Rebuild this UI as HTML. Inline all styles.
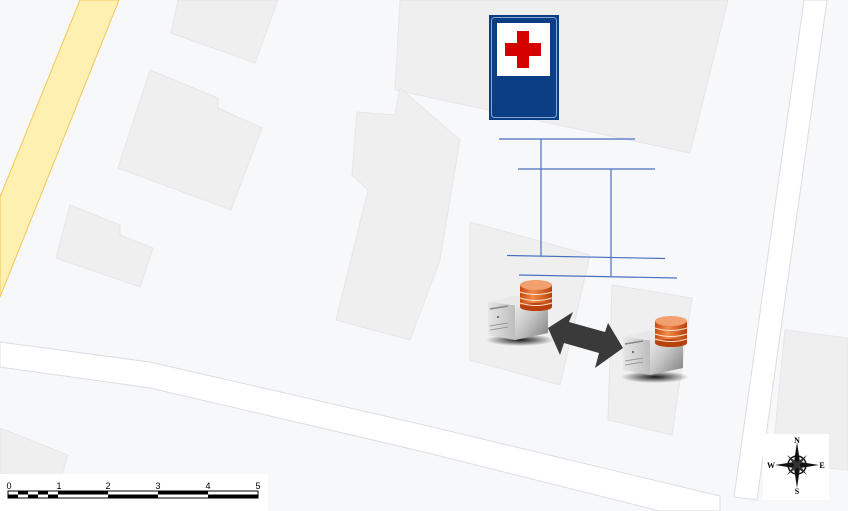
<!DOCTYPE html>
<html><head><meta charset="utf-8"><style>
html,body{margin:0;padding:0;width:848px;height:511px;overflow:hidden;background:#f7f8fa}
svg{display:block}
</style></head><body>
<svg width="848" height="511" viewBox="0 0 848 511" xmlns="http://www.w3.org/2000/svg" font-family="Liberation Sans, sans-serif">
<defs>
<linearGradient id="side" x1="0" y1="0" x2="1" y2="1"><stop offset="0" stop-color="#f2f2f2"/><stop offset="0.5" stop-color="#c4c4c4"/><stop offset="1" stop-color="#7e7e7e"/></linearGradient>
<linearGradient id="front" x1="0" y1="0" x2="1" y2="0"><stop offset="0" stop-color="#e6e6e6"/><stop offset="1" stop-color="#bdbdbd"/></linearGradient>
<linearGradient id="db" x1="0" y1="0" x2="1" y2="0"><stop offset="0" stop-color="#c84a10"/><stop offset="0.4" stop-color="#f08a4a"/><stop offset="1" stop-color="#b8400c"/></linearGradient>
<radialGradient id="sh"><stop offset="0" stop-color="#000" stop-opacity="0.9"/><stop offset="1" stop-color="#000" stop-opacity="0"/></radialGradient>
</defs>
<rect width="848" height="511" fill="#f7f8fa"/>
<g fill="#efefef" stroke="#e6e6ea" stroke-width="1">
<polygon points="178,0 278,0 255,63 171,33"/>
<polygon points="150,70 218,98 218,108 262,128 231,210 118,168"/>
<polygon points="70,205 120,225 120,235 153,248 140,287 56,258"/>
<polygon points="400,0 728,0 690,153 395,90"/>
<polygon points="357,112 395,115 400,88 460,140 440,260 410,340 336,320 368,190 352,175"/>
<polygon points="470,222 590,255 560,385 470,360"/>
<polygon points="612,285 692,298 672,435 608,420"/>
<polygon points="785,330 848,338 848,470 772,462"/>
<polygon points="0,428 68,455 60,480 0,480"/>
</g>
<polygon points="80,0 119,0 0,297 0,197" fill="#fdf0b0" stroke="#f5c75a" stroke-width="1"/>
<polygon points="0,342 150,362 424,425 720,496 720,511 660,511 424,452 150,388 0,367" fill="#ffffff" stroke="#dcdde2" stroke-width="1"/>
<polygon points="804,0 827,0 757,500 734,497" fill="#ffffff" stroke="#dcdde2" stroke-width="1"/>
<rect x="489" y="15" width="70" height="105" fill="#0a3e85"/>
<rect x="491.5" y="17.5" width="65" height="100" rx="3" fill="none" stroke="#8aa6cf" stroke-width="1"/>
<rect x="497" y="23" width="53" height="53" fill="#fff"/>
<path d="M517,31h12v12h12v13h-12v12h-12v-12h-12v-13h12z" fill="#d40000"/>
<g stroke="#4a70c0" stroke-width="1.2" fill="none">
<line x1="499" y1="139" x2="635" y2="139"/>
<line x1="518" y1="169" x2="655" y2="169"/>
<line x1="541" y1="139" x2="541" y2="256"/>
<line x1="611" y1="169" x2="611" y2="276"/>
<line x1="507" y1="255.5" x2="665" y2="258.5"/>
<line x1="519" y1="275" x2="677" y2="278"/>
</g>
<polygon points="548,328 573,312 569,322 605,332 608,323 623,348 595,368 599,353 564,343 560,355" fill="#3a3a3a"/>
<!-- server 1 -->
<ellipse cx="520" cy="340" rx="34" ry="6" fill="url(#sh)"/>
<polygon points="488,302 515,296 515,340 488,335" fill="url(#front)"/>
<polygon points="515,296 548,300 548,333 515,340" fill="url(#side)"/>
<polygon points="488,302 515,296 548,300 520,306" fill="#e8e8e8"/>
<line x1="490" y1="309" x2="508" y2="306" stroke="#888" stroke-width="1.5"/>
<line x1="490" y1="326" x2="508" y2="323" stroke="#999"/>
<line x1="490" y1="330" x2="508" y2="327" stroke="#999"/>
<circle cx="498" cy="317" r="1" fill="#555"/>
<g><rect x="520" y="285" width="32" height="22" fill="url(#db)"/><ellipse cx="536" cy="307" rx="16" ry="4" fill="#b8400c"/><ellipse cx="536" cy="285" rx="16" ry="5" fill="#f2a070"/>
<path d="M520,292q16,5 32,0M520,298q16,5 32,0M520,303q16,5 32,0" stroke="#fde0c8" fill="none"/></g>
<!-- server 2 -->
<ellipse cx="655" cy="377" rx="34" ry="6" fill="url(#sh)"/>
<polygon points="623,337 650,331 650,375 623,370" fill="url(#front)"/>
<polygon points="650,331 683,335 683,368 650,375" fill="url(#side)"/>
<polygon points="623,337 650,331 683,335 655,341" fill="#e8e8e8"/>
<line x1="625" y1="344" x2="643" y2="341" stroke="#888" stroke-width="1.5"/>
<line x1="625" y1="361" x2="643" y2="358" stroke="#999"/>
<line x1="625" y1="365" x2="643" y2="362" stroke="#999"/>
<circle cx="633" cy="352" r="1" fill="#555"/>
<g><rect x="655" y="321" width="32" height="22" fill="url(#db)"/><ellipse cx="671" cy="343" rx="16" ry="4" fill="#b8400c"/><ellipse cx="671" cy="321" rx="16" ry="5" fill="#f2a070"/>
<path d="M655,328q16,5 32,0M655,334q16,5 32,0M655,339q16,5 32,0" stroke="#fde0c8" fill="none"/></g>
<rect x="0" y="474" width="268" height="37" fill="#fff"/>
<g font-size="9" fill="#000" text-anchor="middle">
<text x="9" y="489">0</text><text x="59" y="489">1</text><text x="108" y="489">2</text><text x="158" y="489">3</text><text x="208" y="489">4</text><text x="258" y="489">5</text>
</g>
<rect x="8" y="491" width="250" height="7" fill="#fff" stroke="#000" stroke-width="1"/>
<g fill="#000">
<rect x="18" y="491" width="10" height="3.5"/><rect x="38" y="491" width="10" height="3.5"/><rect x="58" y="491" width="50" height="3.5"/><rect x="158" y="491" width="50" height="3.5"/>
<rect x="8" y="494.5" width="10" height="3.5"/><rect x="28" y="494.5" width="10" height="3.5"/><rect x="48" y="494.5" width="10" height="3.5"/><rect x="108" y="494.5" width="50" height="3.5"/><rect x="208" y="494.5" width="50" height="3.5"/>
</g>
<rect x="763" y="434" width="66" height="66" fill="#fff"/>
<g transform="translate(797,465)">
<circle r="9" fill="none" stroke="#111" stroke-width="1.5"/>
<polygon points="0,-23 3,-3 0,0 -3,-3" fill="#111"/>
<polygon points="0,23 3,3 0,0 -3,3" fill="#111"/>
<polygon points="-22,0 -3,-3 0,0 -3,3" fill="#111"/>
<polygon points="22,0 3,-3 0,0 3,3" fill="#111"/>
<polygon points="-10,-10 1,-2 0,0 -2,1" fill="#333"/><polygon points="10,10 -1,2 0,0 2,-1" fill="#333"/>
<polygon points="10,-10 2,1 0,0 -1,-2" fill="#333"/><polygon points="-10,10 -2,-1 0,0 1,2" fill="#333"/>
</g>
<g font-family="Liberation Serif, serif" font-size="8" font-weight="bold" fill="#000" text-anchor="middle">
<text x="797" y="443">N</text><text x="797" y="494">S</text><text x="771" y="468">W</text><text x="822" y="468">E</text>
</g>
</svg>
</body></html>
